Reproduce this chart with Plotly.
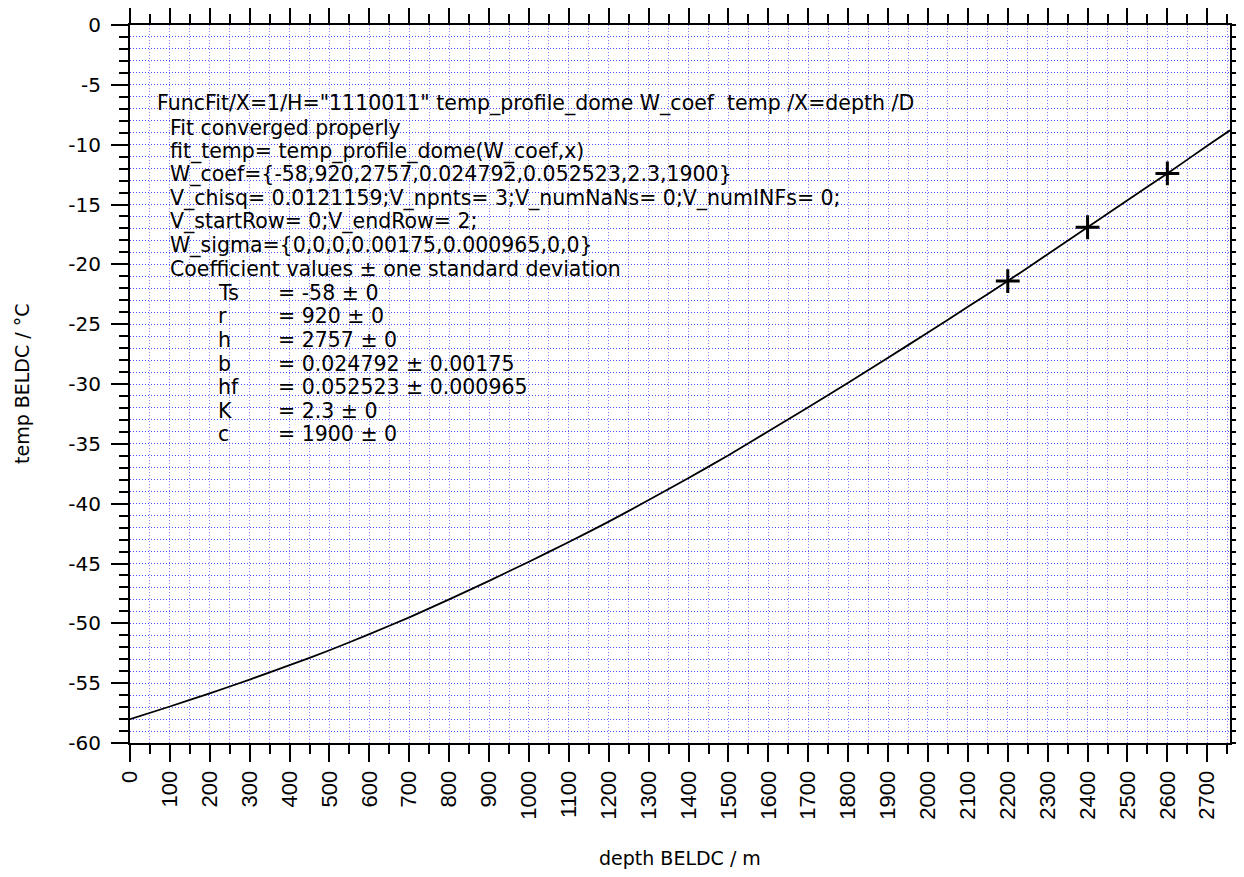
import plotly.graph_objects as go

# ---- data ----
depth_fit = [0, 100, 200, 300, 400, 500, 600, 700, 800, 900, 1000, 1100, 1200, 1300,
             1400, 1500, 1600, 1700, 1800, 1900, 2000, 2100, 2200, 2300, 2400, 2500,
             2600, 2700, 2757]
temp_fit = [-58.0, -56.95, -55.85, -54.7, -53.5, -52.25, -50.9, -49.5, -48.0, -46.45,
            -44.85, -43.2, -41.5, -39.7, -37.85, -35.95, -33.95, -31.95, -29.9, -27.8,
            -25.7, -23.55, -21.4, -19.15, -16.9, -14.65, -12.4, -10.1, -8.8]

depth_obs = [2200, 2400, 2600]
temp_obs = [-21.4, -16.9, -12.4]

x_tickvals = list(range(0, 2701, 100))
x_ticktext = [str(v) for v in x_tickvals]
y_tickvals = list(range(0, -61, -5))
y_ticktext = [str(v) for v in y_tickvals]

header_lines = [
    'FuncFit/X=1/H="1110011" temp_profile_dome W_coef  temp /X=depth /D',
    'Fit converged properly',
    'fit_temp= temp_profile_dome(W_coef,x)',
    'W_coef={-58,920,2757,0.024792,0.052523,2.3,1900}',
    'V_chisq= 0.0121159;V_npnts= 3;V_numNaNs= 0;V_numINFs= 0;',
    'V_startRow= 0;V_endRow= 2;',
    'W_sigma={0,0,0,0.00175,0.000965,0,0}',
    'Coefficient values ± one standard deviation',
]
coef_names = ['Ts', 'r', 'h', 'b', 'hf', 'K', 'c']
coef_values = ['= -58 ± 0', '= 920 ± 0', '= 2757 ± 0', '= 0.024792 ± 0.00175',
               '= 0.052523 ± 0.000965', '= 2.3 ± 0', '= 1900 ± 0']

x_title = 'depth BELDC / m'
y_title = 'temp BELDC / °C'

# ---- layout constants (page body has an 8px margin) ----
OFF = 8
W, H = 1244 - OFF, 877 - OFF
PL, PT, PR, PB = 130, 25, 1230, 743          # plot-area edges in screenshot pixels
ML, MT = PL - OFF, PT - OFF
MR = W - (PR - OFF)
MB = H - (PB - OFF)
PW, PH = PR - PL, PB - PT

def px2paper_x(px):
    return (px - PL) / PW

def px2paper_y(py):
    return (PB - py) / PH

FONT = 'DejaVu Sans'
grid_x = '#8080ff'
grid_y = '#4c4cff'
gdash = '1px,2px'

fig = go.Figure()
fig.add_trace(go.Scatter(x=depth_fit, y=temp_fit, mode='lines',
                         line=dict(color='black', width=1.8, shape='spline', smoothing=0.6),
                         hoverinfo='skip', showlegend=False))
fig.add_trace(go.Scatter(x=depth_obs, y=temp_obs, mode='markers',
                         marker=dict(symbol='cross-thin', size=17,
                                     line=dict(color='black', width=3)),
                         showlegend=False))

axis_common = dict(
    showline=True, linecolor='black', linewidth=2, mirror='allticks',
    ticks='outside', ticklen=17, tickwidth=2, tickcolor='black',
    zeroline=False, showgrid=True, gridwidth=1, griddash=gdash,
)

fig.update_xaxes(
    range=[0, 2757], tickmode='array', tickvals=x_tickvals, ticktext=x_ticktext,
    tickangle=-90, tickfont=dict(family='Liberation Sans', size=22, color='black'),
    gridcolor=grid_x,
    minor=dict(tickmode='linear', tick0=0, dtick=50, ticklen=9, tickwidth=1.5,
               tickcolor='black', ticks='outside',
               showgrid=True, gridcolor=grid_x, griddash=gdash, gridwidth=1),
    **axis_common)
fig.update_yaxes(
    range=[-60, 0], tickmode='array', tickvals=y_tickvals, ticktext=y_ticktext,
    tickfont=dict(family=FONT, size=20, color='black'), ticklabelstandoff=6,
    gridcolor=grid_y,
    minor=dict(tickmode='linear', tick0=0, dtick=1, ticklen=9, tickwidth=1.5,
               tickcolor='black', ticks='outside',
               showgrid=True, gridcolor=grid_y, griddash=gdash, gridwidth=1),
    **axis_common)

annotations = []
fs = 20.5
base0 = 111.0
step = 23.6

def add_line(text, px, baseline):
    annotations.append(dict(
        text=text.replace('  ', '&nbsp; '), xref='paper', yref='paper', x=px2paper_x(px),
        y=px2paper_y(baseline - 0.346 * fs), xanchor='left', yanchor='middle',
        showarrow=False, borderpad=0, borderwidth=0,
        font=dict(family=FONT, size=fs, color='black')))

for i, t in enumerate(header_lines):
    add_line(t, 157 if i == 0 else 170, base0 + step * i)
for j, (n, v) in enumerate(zip(coef_names, coef_values)):
    b = base0 + step * (len(header_lines) + j)
    add_line(n, 218, b)
    add_line(v, 278, b)

# axis titles
annotations.append(dict(text=x_title, xref='paper', yref='paper', x=0.5, y=0,
                        yshift=-(858 - PB), xanchor='center', yanchor='middle',
                        showarrow=False, font=dict(family=FONT, size=19, color='black')))
annotations.append(dict(text=y_title, xref='paper', yref='paper', x=0, y=0.5,
                        xshift=-(PL - 22), xanchor='center', yanchor='middle',
                        textangle=-90, showarrow=False,
                        font=dict(family=FONT, size=19, color='black')))

fig.update_layout(
    width=W, height=H, margin=dict(l=ML, r=MR, t=MT, b=MB, autoexpand=False),
    paper_bgcolor='white', plot_bgcolor='white',
    annotations=annotations, showlegend=False,
)

fig.write_html('out.html')
